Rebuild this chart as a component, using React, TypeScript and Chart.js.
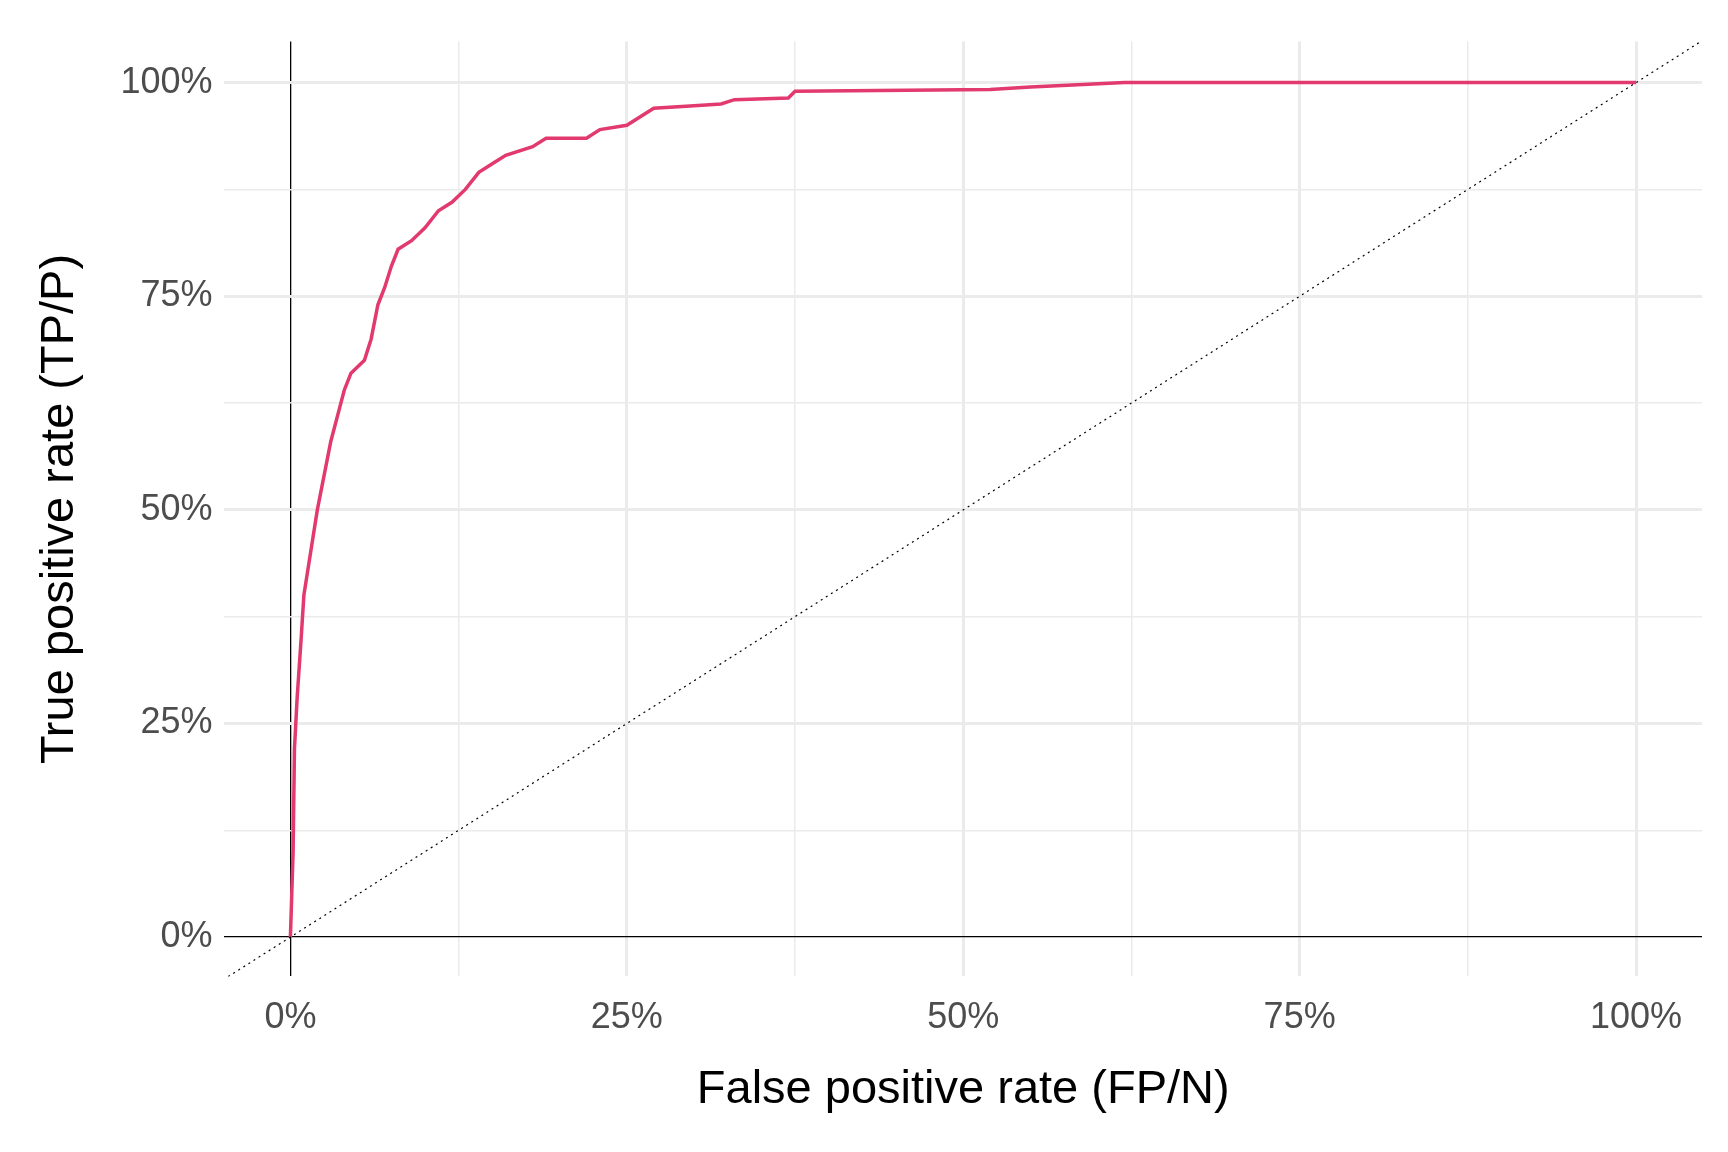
import React, { useEffect, useRef } from "react";
import { Chart, registerables } from "chart.js";
Chart.register(...registerables);

const fpr = [0,0.2,0.3,0.5,0.8,1,1.5,2,2.5,3,3.5,4,4.5,5.5,6,6.5,7,7.5,8,9,10,11,12,13,14,15,16,18,19,22,23,25,26,27,30,32,33,37,37.5,52,55,62,100];
const tpr = [0,10,22,28,35,40,45,50,54,58,61,64,66,67.5,70,74,76,78.5,80.5,81.5,83,85,86,87.5,89.5,90.5,91.5,92.5,93.5,93.5,94.5,95,96,97,97.3,97.5,98,98.2,99,99.2,99.5,100,100];
const diag = [-5, 105];
const tickLabels = ["0%", "25%", "50%", "75%", "100%"];

export default function App() {
  const ref = useRef<HTMLCanvasElement>(null);
  useEffect(() => {
    const font = { family: "Liberation Sans, Arial, sans-serif", size: 36 };
    const grid = {
      color: (c: any) => (c.tick && c.tick.value === 0 ? "#000" : "#ebebeb"),
      lineWidth: (c: any) => (c.tick && c.tick.value === 0 ? 1.3 : Math.abs(c.tick.value % 25) < 0.01 ? 3 : 1.5),
      drawTicks: false,
    };
    const tickCb = (v: any) => (Math.abs(v % 25) < 0.01 && v >= 0 ? tickLabels[v / 25] : "");
    const chart = new Chart(ref.current!, {
      type: "line",
      data: {
        datasets: [
          {
            data: diag.map((d) => ({ x: d, y: d })),
            borderColor: "#000",
            borderWidth: 1.2,
            borderDash: [2, 4],
            pointRadius: 0,
          },
          {
            data: fpr.map((x, i) => ({ x, y: tpr[i] })),
            borderColor: "#E2396F",
            borderWidth: 3.5,
            pointRadius: 0,
          },
        ],
      },
      options: {
        animation: false,
        responsive: false,
        layout: { padding: { left: 20, right: 18, top: 10, bottom: 22 } },
        plugins: { legend: { display: false }, tooltip: { enabled: false } },
        scales: {
          x: {
            type: "linear",
            min: -4.9,
            max: 104.9,
            afterBuildTicks: (a: any) => { a.ticks = [0,12.5,25,37.5,50,62.5,75,87.5,100].map((v) => ({ value: v })); },
            grid,
            border: { display: false },
            ticks: { callback: tickCb, font, color: "#4d4d4d", padding: 20, maxRotation: 0, autoSkip: false },
            title: { display: true, text: "False positive rate (FP/N)", font: { ...font, size: 47 }, color: "#000", padding: { top: 2 } },
          },
          y: {
            type: "linear",
            min: -4.6,
            max: 104.8,
            afterBuildTicks: (a: any) => { a.ticks = [0,12.5,25,37.5,50,62.5,75,87.5,100].map((v) => ({ value: v })); },
            grid,
            border: { display: false },
            ticks: { callback: tickCb, font, color: "#4d4d4d", padding: 12, autoSkip: false },
            title: { display: true, text: "True positive rate (TP/P)", font: { ...font, size: 47 }, color: "#000", padding: { bottom: 20 } },
          },
        },
      },
    });
    return () => chart.destroy();
  }, []);
  return (
    <div style={{ width: 1712, height: 1136, background: "#fff" }}>
      <canvas ref={ref} width={1712} height={1136} />
    </div>
  );
}
